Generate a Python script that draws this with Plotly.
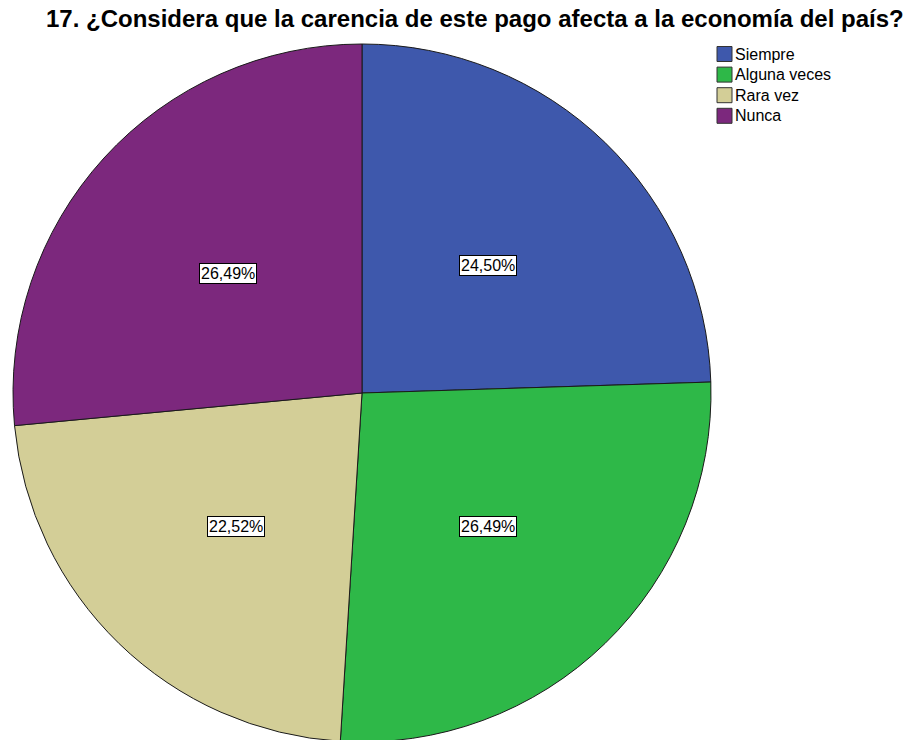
import math
import plotly.graph_objects as go

categories = ["Siempre", "Alguna veces", "Rara vez", "Nunca"]
percentages = [24.50, 26.49, 22.52, 26.49]
colors = ["#3E58AC", "#2EB848", "#D3CE97", "#7C287D"]
title_text = "17. ¿Considera que la carencia de este pago afecta a la economía del país?"

W, H = 912, 745
FONT = "Liberation Sans, Arial, sans-serif"
# pie placement in pixels (centre and radius)
cx, cy, R = 362, 393, 349

fig = go.Figure(
    go.Pie(
        labels=categories,
        values=percentages,
        sort=False,
        direction="clockwise",
        rotation=0,
        marker=dict(colors=colors, line=dict(color="#1a1a1a", width=1)),
        textinfo="none",
        hoverinfo="label+percent",
        showlegend=False,
        domain=dict(
            x=[(cx - R) / W, (cx + R) / W],
            y=[1 - (cy + R) / H, 1 - (cy - R) / H],
        ),
    )
)


def px_x(v):
    return v / W


def px_y(v):
    return 1 - v / H


# percentage labels in boxes, placed along each slice's mid-angle
total = sum(percentages)
annotations = []
shapes = []
cum = 0.0
for val in percentages:
    mid = (cum + val / 2) / total * 2 * math.pi
    cum += val
    lx = cx + 0.52 * R * math.sin(mid)
    ly = cy - 0.52 * R * math.cos(mid) + 3
    annotations.append(
        dict(
            x=px_x(lx),
            y=px_y(ly),
            xref="paper",
            yref="paper",
            text=f"{val:.2f}%".replace(".", ","),
            showarrow=False,
            font=dict(family=FONT, size=16, color="#000"),
            bgcolor="#ffffff",
            bordercolor="#000000",
            borderwidth=1,
            borderpad=1,
            xanchor="center",
            yanchor="middle",
        )
    )

# title
annotations.append(
    dict(
        x=px_x(475),
        y=px_y(19),
        xref="paper",
        yref="paper",
        text=f"<b>{title_text}</b>",
        showarrow=False,
        font=dict(family=FONT, size=24, color="#000"),
        xanchor="center",
        yanchor="middle",
    )
)

# compact legend: bordered swatch + label per category
leg_x, leg_y0, leg_step, sw = 717, 54, 20.6, 15
for i, (name, col) in enumerate(zip(categories, colors)):
    yc = leg_y0 + i * leg_step
    shapes.append(
        dict(
            type="rect",
            xref="paper",
            yref="paper",
            x0=px_x(leg_x),
            x1=px_x(leg_x + sw),
            y0=px_y(yc + sw / 2),
            y1=px_y(yc - sw / 2),
            fillcolor=col,
            line=dict(color="#333333", width=1),
        )
    )
    annotations.append(
        dict(
            x=px_x(leg_x + sw + 2),
            y=px_y(yc),
            xref="paper",
            yref="paper",
            text=name,
            showarrow=False,
            font=dict(family=FONT, size=16, color="#000"),
            xanchor="left",
            yanchor="middle",
            borderpad=0,
        )
    )

fig.update_layout(
    width=W,
    height=H,
    autosize=False,
    margin=dict(l=0, r=0, t=0, b=0),
    paper_bgcolor="#ffffff",
    plot_bgcolor="#ffffff",
    annotations=annotations,
    shapes=shapes,
    showlegend=False,
)

fig.write_html("out.html")
